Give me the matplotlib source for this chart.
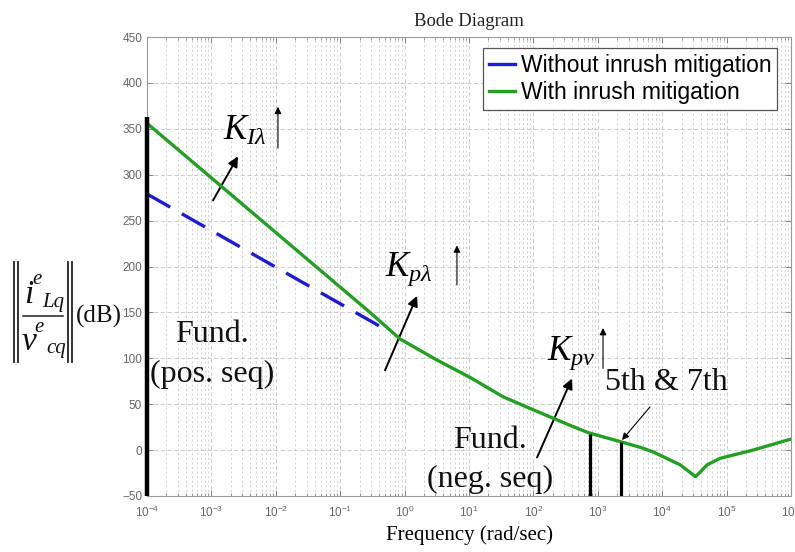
import numpy as np
import matplotlib
matplotlib.use("Agg")
import matplotlib.pyplot as plt
from matplotlib.lines import Line2D
from matplotlib.ticker import FixedLocator, FixedFormatter, LogLocator, NullFormatter

plt.rcParams["mathtext.fontset"] = "custom"
plt.rcParams["mathtext.rm"] = "Liberation Serif"
plt.rcParams["mathtext.it"] = "Liberation Serif:italic"
plt.rcParams["mathtext.bf"] = "Liberation Serif:bold"
plt.rcParams["mathtext.sf"] = "Liberation Sans"
plt.rcParams["mathtext.fallback"] = "stix"

W, H = 795, 552

# кривая "с подавлением" (читается с картинки), рад/с и дБ
freq_with = [1e-4, 0.29, 0.85, 3.2, 10.5, 34, 115, 370, 710, 2040,
             4570, 7240, 19000, 33000, 50000, 79000, 257000, 1e6]
mag_with = [356, 150, 121, 98, 79, 58, 42, 27, 19, 10,
            3, -2, -16, -29, -16, -9, 0, 12]

# кривая "без подавления" — видна только до ~0.46 рад/с
freq_without = [1e-4, 0.46]
mag_without = [279, 133]

# вертикальные отметки: основная частота (+), основная (-), 5-я и 7-я
mark_freq = [1e-4, 754, 2262]
mark_top = [363, 18, 9]

y_ticks = list(range(-50, 451, 50))
x_decades = list(range(-4, 7))


def px(x, y):
    # пиксели картинки -> доли фигуры
    return x / W, 1 - y / H


fig = plt.figure(figsize=(W / 100, H / 100), dpi=100)
ax = fig.add_axes([147 / W, 1 - 496 / H, 644 / W, 459 / H])

ax.plot(freq_without, mag_without, color="#1c1cd8", lw=2.4,
        dashes=(8, 4), solid_capstyle="butt", zorder=3)
ax.plot(freq_with, mag_with, color="#22a022", lw=2.4, zorder=4)

ax.vlines(mark_freq[0], -50, mark_top[0], color="black", lw=3.2,
          clip_on=False, zorder=5)
ax.vlines(mark_freq[1:], -50, mark_top[1:], color="black", lw=2.3, zorder=5)

ax.set_xscale("log")
ax.set_xlim(1e-4, 1e6)
ax.set_ylim(-50, 450)

ax.xaxis.set_major_locator(FixedLocator([10.0 ** d for d in x_decades]))
ax.xaxis.set_major_formatter(FixedFormatter(
    [r"$\mathsf{10^{%d}}$" % d for d in x_decades]))
ax.xaxis.set_minor_locator(LogLocator(base=10, subs=np.arange(2, 10), numticks=100))
ax.xaxis.set_minor_formatter(NullFormatter())
ax.set_yticks(y_ticks)

ax.tick_params(which="both", direction="in", top=True, right=True,
               colors="#777777", labelcolor="#666666", labelsize=8.5)
ax.tick_params(which="major", length=4, width=0.6)
ax.tick_params(which="minor", length=2, width=0.5)
ax.tick_params(axis="x", pad=6)
for lbl in ax.get_yticklabels():
    lbl.set_fontfamily("Liberation Sans")
for s in ax.spines.values():
    s.set_color("#999999")
    s.set_linewidth(0.8)

ax.grid(which="major", color="#c4c4c4", lw=0.6, ls=(0, (5, 3)))
ax.grid(which="minor", axis="x", color="#cccccc", lw=0.6, ls=(0, (2.5, 3)))
ax.set_axisbelow(True)

ax.set_title("Bode Diagram", family="Liberation Serif", fontsize=13.5,
             color="#222222", pad=8)
ax.set_xlabel("Frequency (rad/sec)", family="Liberation Serif", fontsize=15,
              labelpad=4)

# подпись оси Y: ||i^e_Lq / v^e_cq|| (dB), собрана по кусочкам
ylab = dict(family="Liberation Serif", style="italic", color="#111111",
            ha="left", va="baseline")
fig.text(*px(24, 303), "i", fontsize=24, **ylab)
fig.text(*px(32, 284), "e", fontsize=15, **ylab)
fig.text(*px(42, 307), "Lq", fontsize=15, **ylab)
fig.text(*px(22, 350), "v", fontsize=24, **ylab)
fig.text(*px(34, 332), "e", fontsize=15, **ylab)
fig.text(*px(46, 353), "cq", fontsize=15, **ylab)
fig.add_artist(Line2D([23 / W, 63 / W], [1 - 316 / H] * 2, color="#222222",
                      lw=1.1, transform=fig.transFigure))
for xb in (13.5, 17.5, 67.5, 71.5):
    fig.add_artist(Line2D([xb / W] * 2, [1 - 262 / H, 1 - 362 / H],
                          color="#222222", lw=1.3, transform=fig.transFigure))
fig.text(*px(76, 323), "(dB)", family="Liberation Serif", fontsize=18,
         ha="left", va="baseline", color="#111111")

# текстовые пометки
serif = dict(family="Liberation Serif", fontsize=23, color="#111111")
ax.text(1.02e-3, 118, "Fund.", ha="center", va="baseline", **serif)
ax.text(1.02e-3, 74, "(pos. seq)", ha="center", va="baseline", **serif)
ax.text(21, 2, "Fund.", ha="center", va="baseline", **serif)
ax.text(21, -40, "(neg. seq)", ha="center", va="baseline", **serif)
ax.text(1294, 65, "5th & 7th", ha="left", va="baseline", **serif)

ax.text(1.5e-3, 338, r"$K_{I\lambda}$", fontsize=25, ha="left", va="baseline")
ax.text(0.50, 190, r"$K_{p\lambda}$", fontsize=25, ha="left", va="baseline")
ax.text(163, 98, r"$K_{pv}$", fontsize=25, ha="left", va="baseline")

big = dict(arrowstyle="-|>", color="black", lw=1.4, mutation_scale=15,
           shrinkA=0, shrinkB=0)
small = dict(arrowstyle="-|>", color="black", lw=0.8, mutation_scale=10,
             shrinkA=0, shrinkB=0)

ax.annotate("", xy=(2.59e-3, 320), xytext=(1.06e-3, 272), arrowprops=big)
ax.annotate("", xy=(1.56, 168), xytext=(0.497, 87), arrowprops=big)
ax.annotate("", xy=(397, 78), xytext=(114, -8), arrowprops=big)
ax.annotate("", xy=(2377, 11), xytext=(6460, 47), arrowprops=small)

ax.annotate("", xy=(0.0108, 374), xytext=(0.0108, 329), arrowprops=small)
ax.annotate("", xy=(6.5, 223), xytext=(6.5, 180), arrowprops=small)
ax.annotate("", xy=(1205, 133), xytext=(1205, 89), arrowprops=small)

handles = [Line2D([], [], color="#1c1cd8", lw=2.4),
           Line2D([], [], color="#22a022", lw=2.4)]
leg = ax.legend(handles, ["Without inrush mitigation", "With inrush mitigation"],
                loc="upper right", bbox_to_anchor=((777 - 147) / 644, 1 - 11 / 459),
                borderaxespad=0, handlelength=1.15,
                handletextpad=0.25, borderpad=0.25, labelspacing=0.2,
                fancybox=False, framealpha=1, edgecolor="#555555",
                prop={"family": "Liberation Sans", "size": 16.5})
leg.get_frame().set_linewidth(0.9)

fig.savefig("out.png", dpi=100)
